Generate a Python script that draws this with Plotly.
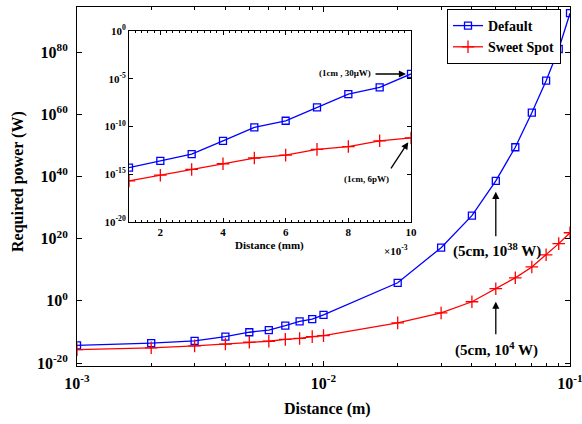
import math
import plotly.graph_objects as go

# Data
distance_m = [1e-3, 2e-3, 3e-3, 4e-3, 5e-3, 6e-3, 7e-3, 8e-3, 9e-3, 1e-2,
              2e-2, 3e-2, 4e-2, 5e-2, 6e-2, 7e-2, 8e-2, 9e-2, 1e-1]
log_default = [-14.3, -13.6, -12.9, -11.5, -10.1, -9.4, -8.0, -6.6, -5.9, -4.5,
               5.8, 17.1, 27.4, 38.6, 49.4, 60.5, 70.8, 81.0, 92.5]
log_sweet = [-15.7, -15.1, -14.5, -13.9, -13.3, -13.0, -12.4, -12.1, -11.5, -11.2,
             -7.1, -3.9, -0.3, 3.9, 7.4, 10.9, 14.8, 18.4, 21.9]
power_default = [10.0 ** v for v in log_default]
power_sweet = [10.0 ** v for v in log_sweet]

inset_n = 10
inset_x_mm = [d * 1000 for d in distance_m[:inset_n]]

main_ytick_exp = [-20, 0, 20, 40, 60, 80]
main_xtick_exp = [-3, -2, -1]
inset_ytick_exp = [-20, -15, -10, -5, 0]
inset_xticks = [2, 4, 6, 8, 10]

FONT = "Liberation Serif"
BLUE = "#0000FF"
RED = "#FF0000"

fig = go.Figure()

fig.add_trace(go.Scatter(
    x=distance_m, y=power_default, mode="lines+markers", name="Default",
    line=dict(color=BLUE, width=1.3),
    marker=dict(symbol="square-open", size=7, color=BLUE, line=dict(width=1.3, color=BLUE))))
fig.add_trace(go.Scatter(
    x=distance_m, y=power_sweet, mode="lines+markers", name="Sweet Spot",
    line=dict(color=RED, width=1.3),
    marker=dict(symbol="cross-thin", size=9, color=RED, line=dict(width=1.3, color=RED))))

fig.add_trace(go.Scatter(
    x=inset_x_mm, y=power_default[:inset_n], mode="lines+markers", showlegend=False,
    xaxis="x2", yaxis="y2",
    line=dict(color=BLUE, width=1.3),
    marker=dict(symbol="square-open", size=7, color=BLUE, line=dict(width=1.3, color=BLUE))))
fig.add_trace(go.Scatter(
    x=inset_x_mm, y=power_sweet[:inset_n], mode="lines+markers", showlegend=False,
    xaxis="x2", yaxis="y2",
    line=dict(color=RED, width=1.3),
    marker=dict(symbol="cross-thin", size=9, color=RED, line=dict(width=1.3, color=RED))))

def sup(e):
    return "10<sup>%d</sup>" % e

minor_x = [m * 10.0 ** e for e in (-3, -2) for m in range(2, 10)]

axis_common = dict(showline=True, linecolor="black", linewidth=1, mirror="ticks",
                   ticks="inside", tickcolor="black", showgrid=False, zeroline=False)

H = 359.0
def py(page_y):
    return (366 - page_y) / H
def px(page_x):
    return (page_x - 77) / 493.0

fig.update_layout(
    width=582, height=424,
    margin=dict(l=77, r=12, t=7, b=58, autoexpand=False),
    paper_bgcolor="white", plot_bgcolor="white",
    font=dict(family=FONT, color="black"),
    xaxis=dict(type="log", range=[-3, -1], domain=[0, 1],
               tickvals=[10.0 ** e for e in main_xtick_exp],
               ticktext=[sup(e) for e in main_xtick_exp],
               ticklabeloverflow="allow", ticklabelstandoff=3,
               ticklen=5, tickfont=dict(size=16, family=FONT, weight="bold"),
               minor=dict(ticks="inside", ticklen=3, tickcolor="black", tickvals=minor_x),
               **axis_common),
    yaxis=dict(type="log", range=[-20.96, 94.5], domain=[0, 1],
               tickvals=[10.0 ** e for e in main_ytick_exp],
               ticktext=[sup(e) for e in main_ytick_exp],
               ticklabelstandoff=5,
               ticklen=5, tickfont=dict(size=16, family=FONT, weight="bold"),
               **axis_common),
    xaxis2=dict(type="linear", range=[1, 10], domain=[px(129), px(411)], anchor="y2",
                tickvals=inset_xticks, ticktext=[str(v) for v in inset_xticks],
                ticklen=4, tickfont=dict(size=11, family=FONT, weight="bold"),
                minor=dict(ticks="inside", ticklen=2, tickcolor="black", dtick=0.2),
                **axis_common),
    yaxis2=dict(type="log", range=[-20, 0], domain=[py(222), py(31)], anchor="x2",
                tickvals=[10.0 ** e for e in inset_ytick_exp],
                ticktext=[sup(e) for e in inset_ytick_exp],
                ticklen=4, tickfont=dict(size=11, family=FONT, weight="bold"),
                **axis_common),
    legend=dict(x=px(447), y=py(9), xanchor="left", yanchor="top",
                bgcolor="white", bordercolor="black", borderwidth=1,
                font=dict(size=14, family=FONT, weight="bold"),
                itemwidth=30, tracegroupgap=0),
)

ann = []
def text(x, y, t, size, angle=0):
    ann.append(dict(x=px(x), y=py(y), xref="paper", yref="paper", text=t, showarrow=False,
                    xanchor="center", yanchor="middle",
                    textangle=angle, font=dict(size=size, family=FONT, weight="bold", color="black")))

text(327, 409, "Distance (m)", 16)
text(18, 182, "Required power (W)", 16, -90)
text(269, 245, "Distance (mm)", 11)
text(396, 250, "\u00d710<sup>-3</sup>", 11)
text(497, 250, "(5cm, 10<sup>38</sup> W)", 15)
text(496, 349, "(5cm, 10<sup>4</sup> W)", 15)
text(345, 73, "(1cm , 30\u03bcW)", 9)
text(366, 179, "(1cm, 6pW)", 9)

i5 = distance_m.index(5e-2)
i10 = distance_m.index(1e-2)
def arrow(x, y, xr, yr, ax, ay, standoff):
    ann.append(dict(x=x, y=y, xref=xr, yref=yr, ax=ax, ay=ay, axref="pixel", ayref="pixel",
                    text="", showarrow=True, arrowhead=2, arrowsize=1.1, arrowwidth=1.3,
                    arrowcolor="black", standoff=standoff))

arrow(math.log10(distance_m[i5]), log_default[i5], "x", "y", 0, 57, 11)
arrow(math.log10(distance_m[i5]), log_sweet[i5], "x", "y", 0, 47, 13)
arrow(inset_x_mm[i10], log_default[i10], "x2", "y2", -37, 0, 5)
arrow(inset_x_mm[i10], log_sweet[i10], "x2", "y2", -21, 32, 5)

fig.update_layout(annotations=ann)
fig.write_html("out.html", config={"displayModeBar": False},
               post_script="document.body.style.margin='0px';document.body.style.overflow='hidden';")
